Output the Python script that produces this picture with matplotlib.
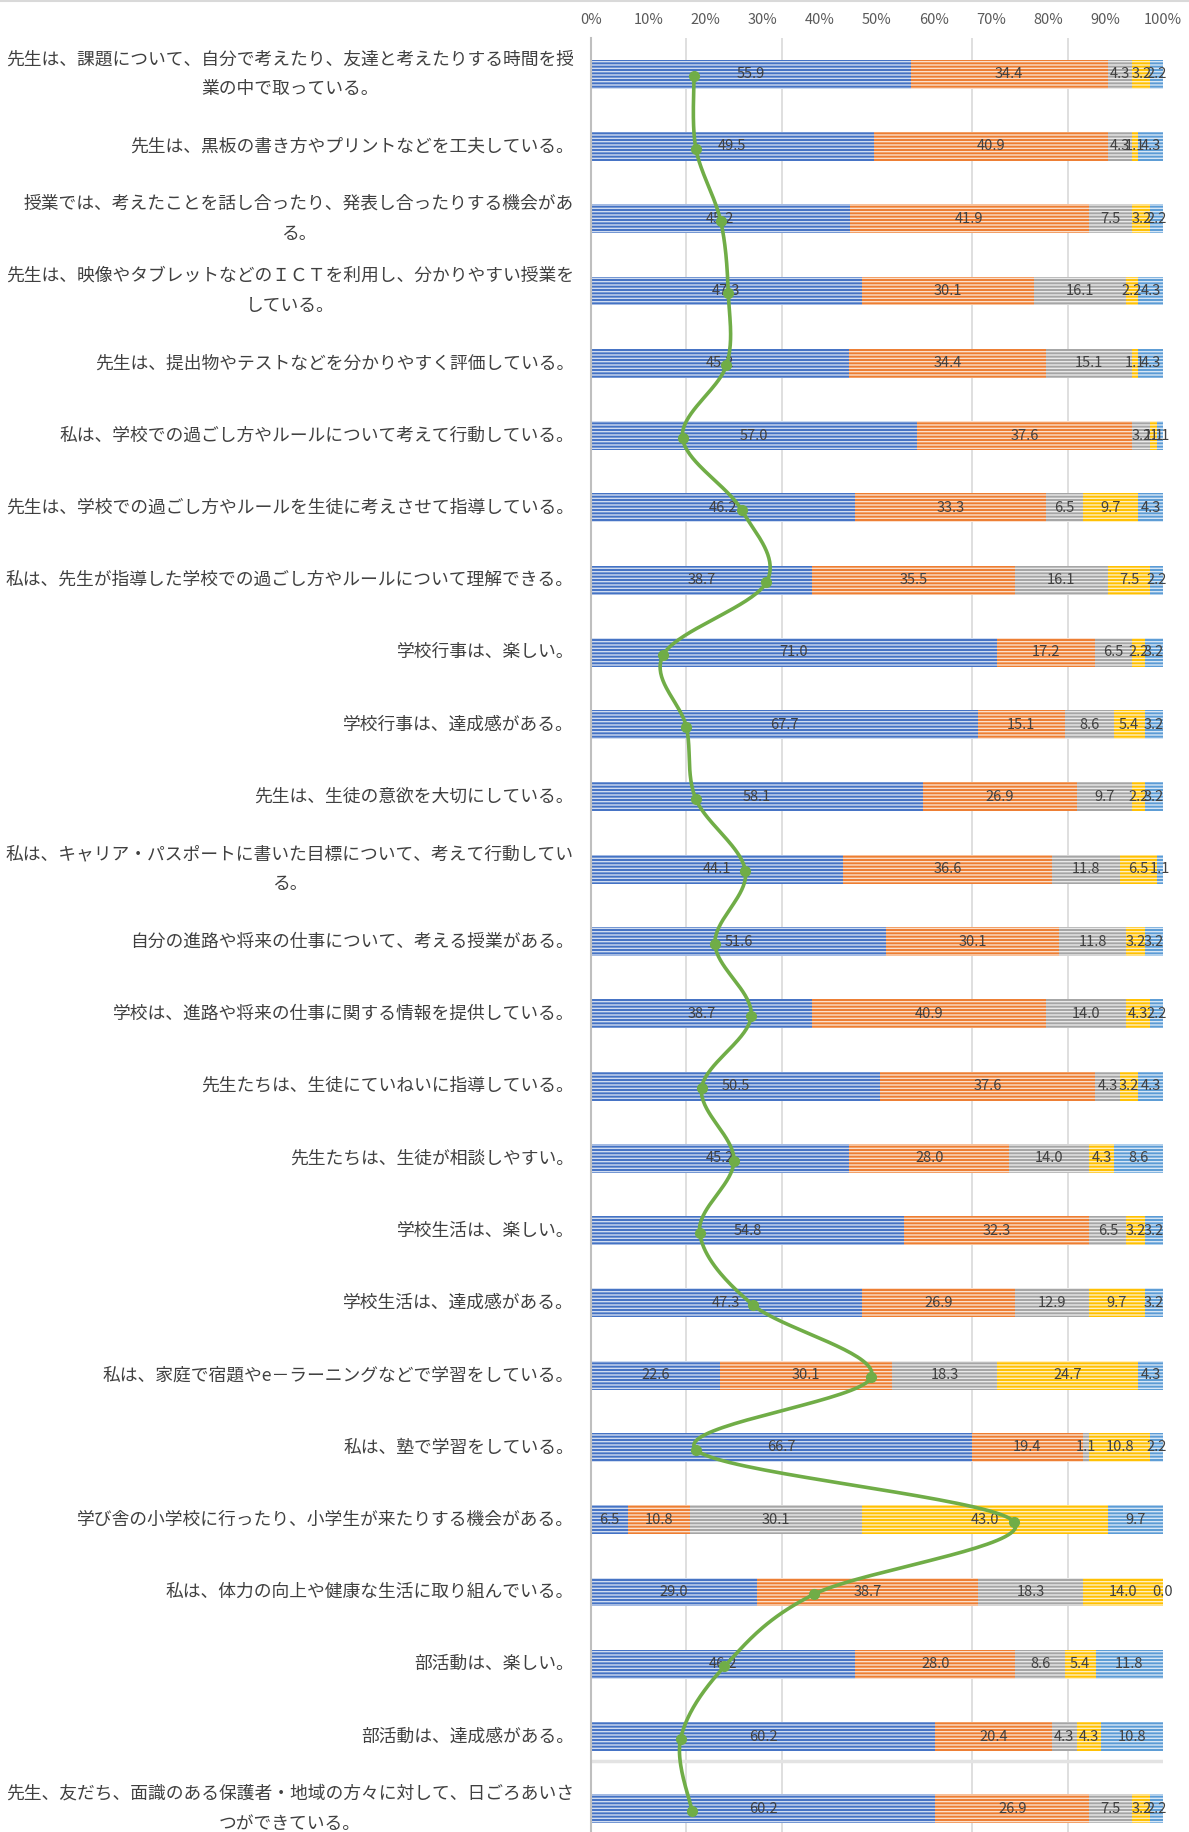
import numpy as np
import matplotlib
matplotlib.use('Agg')
import matplotlib.pyplot as plt
import matplotlib.transforms as mtransforms
from matplotlib.lines import Line2D

plt.rcParams['font.family'] = ['Noto Sans CJK JP', 'DejaVu Sans']
plt.rcParams['hatch.linewidth'] = 1.0

# questions (top to bottom)
questions = [
    "先生は、課題について、自分で考えたり、友達と考えたりする時間を授\n業の中で取っている。",
    "先生は、黒板の書き方やプリントなどを工夫している。",
    "授業では、考えたことを話し合ったり、発表し合ったりする機会があ\nる。",
    "先生は、映像やタブレットなどのＩＣＴを利用し、分かりやすい授業を\nしている。",
    "先生は、提出物やテストなどを分かりやすく評価している。",
    "私は、学校での過ごし方やルールについて考えて行動している。",
    "先生は、学校での過ごし方やルールを生徒に考えさせて指導している。",
    "私は、先生が指導した学校での過ごし方やルールについて理解できる。",
    "学校行事は、楽しい。",
    "学校行事は、達成感がある。",
    "先生は、生徒の意欲を大切にしている。",
    "私は、キャリア・パスポートに書いた目標について、考えて行動してい\nる。",
    "自分の進路や将来の仕事について、考える授業がある。",
    "学校は、進路や将来の仕事に関する情報を提供している。",
    "先生たちは、生徒にていねいに指導している。",
    "先生たちは、生徒が相談しやすい。",
    "学校生活は、楽しい。",
    "学校生活は、達成感がある。",
    "私は、家庭で宿題やe－ラーニングなどで学習をしている。",
    "私は、塾で学習をしている。",
    "学び舎の小学校に行ったり、小学生が来たりする機会がある。",
    "私は、体力の向上や健康な生活に取り組んでいる。",
    "部活動は、楽しい。",
    "部活動は、達成感がある。",
    "先生、友だち、面識のある保護者・地域の方々に対して、日ごろあいさ\nつができている。",
]

# answer shares in percent
ans1 = [55.9, 49.5, 45.2, 47.3, 45.2, 57.0, 46.2, 38.7, 71.0, 67.7, 58.1, 44.1, 51.6,
        38.7, 50.5, 45.2, 54.8, 47.3, 22.6, 66.7, 6.5, 29.0, 46.2, 60.2, 60.2]
ans2 = [34.4, 40.9, 41.9, 30.1, 34.4, 37.6, 33.3, 35.5, 17.2, 15.1, 26.9, 36.6, 30.1,
        40.9, 37.6, 28.0, 32.3, 26.9, 30.1, 19.4, 10.8, 38.7, 28.0, 20.4, 26.9]
ans3 = [4.3, 4.3, 7.5, 16.1, 15.1, 3.2, 6.5, 16.1, 6.5, 8.6, 9.7, 11.8, 11.8,
        14.0, 4.3, 14.0, 6.5, 12.9, 18.3, 1.1, 30.1, 18.3, 8.6, 4.3, 7.5]
ans4 = [3.2, 1.1, 3.2, 2.2, 1.1, 1.1, 9.7, 7.5, 2.2, 5.4, 2.2, 6.5, 3.2,
        4.3, 3.2, 4.3, 3.2, 9.7, 24.7, 10.8, 43.0, 14.0, 5.4, 4.3, 3.2]
ans5 = [2.2, 4.3, 2.2, 4.3, 4.3, 1.1, 4.3, 2.2, 3.2, 3.2, 3.2, 1.1, 3.2,
        2.2, 4.3, 8.6, 3.2, 3.2, 4.3, 2.2, 9.7, 0.0, 11.8, 10.8, 2.2]

# average score (secondary axis, 1-4)
avg_score = [1.54, 1.55, 1.68, 1.72, 1.71, 1.48, 1.79, 1.92, 1.38, 1.50, 1.55, 1.81, 1.65,
             1.84, 1.58, 1.75, 1.57, 1.85, 2.47, 1.55, 3.22, 2.17, 1.70, 1.47, 1.53]

series = [ans1, ans2, ans3, ans4, ans5]
colors = ['#4472C4', '#ED7D31', '#A5A5A5', '#FFC000', '#5B9BD5']
pct_ticks = ['0%', '10%', '20%', '30%', '40%', '50%', '60%', '70%', '80%', '90%', '100%']


def tint(c, amt):
    r, g, b = matplotlib.colors.to_rgb(c)
    return (r + (1 - r) * amt, g + (1 - g) * amt, b + (1 - b) * amt)


W, H = 1189, 1832
fig = plt.figure(figsize=(W / 100, H / 100), dpi=100)
ax_left, ax_right = 591 / W, 1163 / W
ax_top, ax_bot = 38 / H, 1845 / H
ax = fig.add_axes([ax_left, 1 - ax_bot, ax_right - ax_left, ax_bot - ax_top])

n = len(questions)
y = np.arange(n)
data = np.array(series)
totals = data.sum(axis=0)
left = np.zeros(n)
for vals, col in zip(data, colors):
    widths = vals / totals * 100
    ax.barh(y, widths, left=left, height=0.4, color=col, edgecolor=tint(col, 0.75),
            linewidth=0, hatch='-----', zorder=2)
    for yi, l, w, v in zip(y, left, widths, vals):
        ax.text(l + w / 2, yi, f'{v:.1f}', ha='center', va='center',
                fontsize=10.5, color='#404040', zorder=4)
    left += widths

ax.set_xlim(0, 100)
ax.set_ylim(n - 0.5, -0.5)
ax.set_yticks(y)
ax.set_yticklabels([])
ax.tick_params(axis='y', length=0)

# category labels: right aligned, wrapped lines centred
label_tr = ax.get_yaxis_transform() + mtransforms.ScaledTranslation(
    -17 / 100, 0, fig.dpi_scale_trans)
for yi, q in zip(y, questions):
    ax.text(0, yi, q, transform=label_tr, ha='right', va='center', multialignment='center',
            fontsize=12.8, color='#404040', linespacing=1.85, clip_on=False)

# gridlines follow the secondary (1-4, step 0.5) axis
sec_ticks = np.arange(1, 4.01, 0.5)
ax.set_xticks((sec_ticks - 1) / 3 * 100, minor=True)
ax.grid(True, axis='x', which='minor', color='#D9D9D9', linewidth=1.2)
ax.grid(False, axis='x', which='major')
ax.set_axisbelow(True)
for s in ['top', 'right', 'bottom']:
    ax.spines[s].set_visible(False)
ax.spines['left'].set_color('#BFBFBF')
ax.spines['left'].set_linewidth(1.5)
ax.axhline(23.34, color='#E3E3E3', linewidth=2.5, zorder=1)

# smoothed average line on secondary axis
ax2 = ax.twiny()
ax2.set_xlim(1, 4)
ax2.set_ylim(n - 0.5, -0.5)
ax2.axis('off')

# percent ticks on top (after twiny, which moves them to the bottom)
ax.xaxis.tick_top()
ax.xaxis.set_label_position('top')
ax.set_xticks(np.arange(0, 101, 10))
ax.set_xticklabels(pct_ticks, fontsize=10.5, color='#595959')
ax.tick_params(axis='x', which='both', length=0, pad=8)

sx = (1163 - 591) / 3.0
sy = 1807 / n
avg = np.array(avg_score)
yy = y + 0.03
P = np.column_stack([(avg - 1) * sx, yy * sy])
Pe = np.vstack([P[0], P, P[-1]])
curve = []
t = np.linspace(0, 1, 40)[:, None]
for i in range(n - 1):
    p0, p1, p2, p3 = Pe[i], Pe[i + 1], Pe[i + 2], Pe[i + 3]
    c1 = p1 + (p2 - p0) / 6
    c2 = p2 - (p3 - p1) / 6
    seg = ((1 - t) ** 3) * p1 + 3 * ((1 - t) ** 2) * t * c1 + 3 * (1 - t) * t ** 2 * c2 + t ** 3 * p2
    curve.append(seg)
curve = np.vstack(curve)
ax2.plot(curve[:, 0] / sx + 1, curve[:, 1] / sy, color='#70AD47', linewidth=2.6,
         zorder=5, solid_capstyle='round')
ax2.plot(avg, yy, 'o', color='#70AD47', markersize=7, zorder=6)

fig.add_artist(Line2D([0, 1], [1 - 1 / H, 1 - 1 / H], color='#D9D9D9', linewidth=1.5))

fig.savefig('out.png', dpi=100)
